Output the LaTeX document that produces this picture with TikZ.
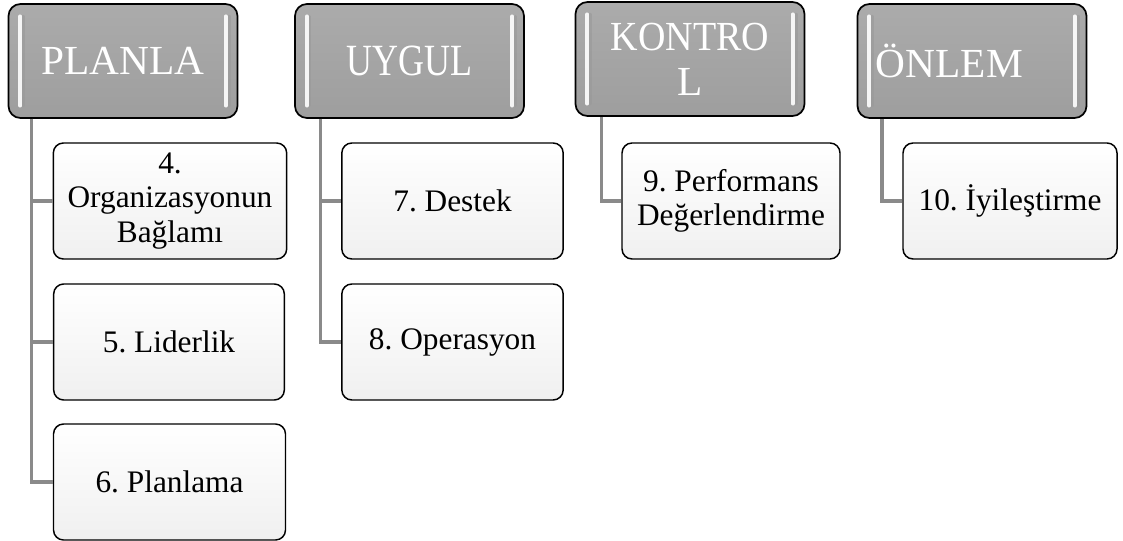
\documentclass[tikz,border=0pt]{standalone}
\usepackage{fontspec}
\setmainfont{Liberation Serif}
\frenchspacing
\definecolor{topA}{HTML}{ABABAB}
\definecolor{topB}{HTML}{9E9E9E}
\definecolor{childB}{HTML}{F0F0F0}
\definecolor{linegray}{HTML}{8A8A8A}
\tikzset{
  topbox/.style={draw=black, line width=1.3pt, rounded corners=9pt,
    top color=topA, bottom color=topB, minimum width=171.75pt,
    minimum height=85.5pt, text=white, font=\fontsize{31}{34}\selectfont,
    align=center, inner sep=0pt},
  childbox/.style={draw=black, line width=1.1pt, rounded corners=7.5pt,
    top color=white, bottom color=childB, minimum height=87pt,
    font=\fontsize{23.5}{26}\selectfont\frenchspacing, align=center, inner sep=0pt},
  conn/.style={draw=linegray, line width=2.3pt},
  glossshade/.style={draw=gray!80, line width=2.5pt, line cap=round, opacity=0.6},
  gloss/.style={draw=white, line width=3pt, line cap=round, opacity=0.9}
}
\begin{document}
\begin{tikzpicture}[x=0.75pt,y=-0.75pt]
\useasboundingbox (0,0) rectangle (1123,541);
% top boxes
\node[topbox] (pl) at (123,61) {PLANLA};
\node[topbox] (uy) at (409.5,61) {\scalebox{0.87}[1.08]{UYGUL}};
\node[topbox] (ko) at (690,59) {\scalebox{0.92}[1]{KONTRO}\\L};
\node[topbox] (on) at (972,61) {\hspace*{-34pt}ÖNLEM};
% glossy highlights
\foreach \n in {pl,uy,ko,on}{
  \draw[glossshade] ([xshift=11.5pt,yshift=-10pt]\n.north west) -- ([xshift=11.5pt,yshift=10pt]\n.south west);
  \draw[glossshade] ([xshift=-7pt,yshift=-10pt]\n.north east) -- ([xshift=-7pt,yshift=10pt]\n.south east);
  \draw[gloss] ([xshift=9.5pt,yshift=-10pt]\n.north west) -- ([xshift=9.5pt,yshift=10pt]\n.south west);
  \draw[gloss] ([xshift=-9.5pt,yshift=-10pt]\n.north east) -- ([xshift=-9.5pt,yshift=10pt]\n.south east);
}
% children
\node[childbox, minimum width=175pt] (c4) at (170,201) {4.\\Organizasyonun\\Bağlamı};
\node[childbox, minimum width=173pt] (c5) at (169,342) {5. Liderlik};
\node[childbox, minimum width=174pt] (c6) at (169.5,482) {6. Planlama};
\node[childbox, minimum width=166pt] (c7) at (452.5,201) {7. Destek};
\node[childbox, minimum width=166pt] (c8) at (452.5,342) {8. Operasyon};
\node[childbox, minimum width=163.5pt] (c9) at (731,201) {9. Performans\\Değerlendirme};
\node[childbox, minimum width=160.5pt] (c10) at (1010,201) {10. İyileştirme};
% connectors
\draw[conn] ([xshift=18pt]pl.south west) |- (c4.west);
\draw[conn] ([xshift=18pt]pl.south west) |- (c5.west);
\draw[conn] ([xshift=18pt]pl.south west) |- (c6.west);
\draw[conn] ([xshift=19.5pt]uy.south west) |- (c7.west);
\draw[conn] ([xshift=19.5pt]uy.south west) |- (c8.west);
\draw[conn] ([xshift=20pt]ko.south west) |- (c9.west);
\draw[conn] ([xshift=19pt]on.south west) |- (c10.west);
\end{tikzpicture}
\end{document}
